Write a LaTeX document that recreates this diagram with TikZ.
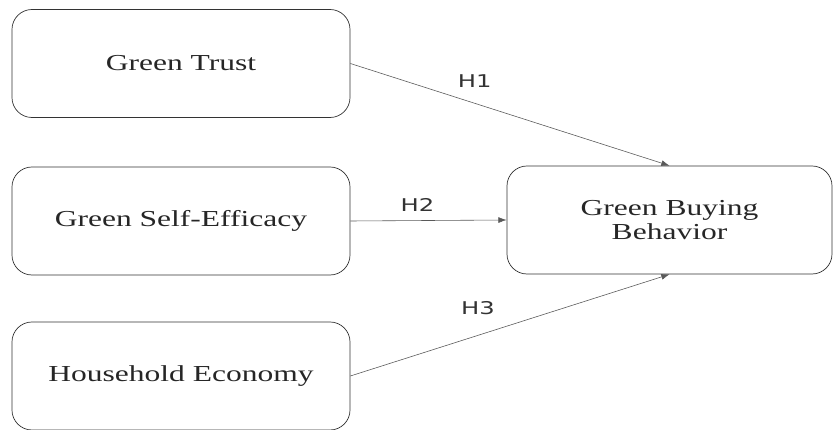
\documentclass[tikz,border=0pt]{standalone}
\usepackage{fontspec}
\setmainfont{Liberation Serif}
\newfontfamily\boxfont[FakeStretch=1.38]{Liberation Serif}
\newfontfamily\hypfont[FakeStretch=1.38]{DejaVu Sans}
\usepackage{tikz}
\usetikzlibrary{arrows.meta,positioning}

\begin{document}
\begin{tikzpicture}[
    x=0.03cm, y=-0.03cm,
    construct/.style={draw=black!80, line width=0.6pt, rounded corners=0.6cm, align=center,
        minimum width=10.14cm, minimum height=3.24cm, font=\boxfont\fontsize{19.5}{20}\selectfont, text=black!85},
    outcome/.style={construct, minimum width=9.75cm},
    path/.style={-{Latex[length=7pt,width=5pt]}, draw=black!65, line width=0.5pt},
    hyp/.style={font=\hypfont\fontsize{15}{17}\selectfont, text=black!80}
]
\useasboundingbox (0,0) rectangle (833,430);

\node[construct] (trust) at (181,63.5) {Green Trust};
\node[construct] (efficacy) at (181,221) {Green Self-Efficacy};
\node[construct] (economy) at (181,376) {Household Economy};
\node[outcome] (buying) at (669.5,220) {Green Buying\\Behavior};

% Hypotheses
\draw[path] (trust.east) -- node[hyp, pos=0.39, above=0.35cm] {H1} (buying.north);
\draw[path] (efficacy.east) -- node[hyp, pos=0.43, above=0.15cm] {H2} (buying.west);
\draw[path] (economy.east) -- node[hyp, pos=0.4, above=0.5cm] {H3} (buying.south);

\end{tikzpicture}
\end{document}
